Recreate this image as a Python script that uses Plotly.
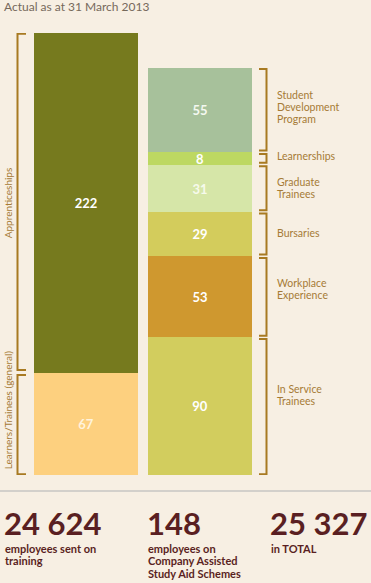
import plotly.graph_objects as go

# ---- data (segments listed top -> bottom) ----
left_labels = ["Apprenticeships", "Learners/Trainees (general)"]
left_values = [222, 67]
right_labels = ["Student<br>Development<br>Program", "Learnerships", "Graduate<br>Trainees",
                "Bursaries", "Workplace<br>Experience", "In Service<br>Trainees"]
right_values = [55, 8, 31, 29, 53, 90]
headline_numbers = ["24 624", "148", "25 327"]
headline_texts = ["employees sent on<br>training",
                  "employees on<br>Company Assisted<br>Study Aid Schemes",
                  "in TOTAL"]
subtitle = "Actual as at 31 March 2013"

# ---- styles ----
W, H = 371, 583
BG = "#F7EFE3"
BRACKET = "#A87A22"
LABEL = "#A67B36"
DARK = "#5A1F22"
FONT = "Lato"
left_colors = ["#767A1E", "#FDD07F"]
right_colors = ["#A7C19B", "#BDD862", "#D6E6A8", "#D3CC5C", "#CF982F", "#D2CD5E"]
left_text_colors = ["#FFFFFF", "#FFF3DC"]
right_text_colors = ["#F4F8F0", "#FFFFFF", "#F6FAEC", "#FFFFFF", "#FFFFFF", "#FFFFFF"]
left_shifts = [0, 14]
right_shifts = [3, 2, 0, 1.5, 7.5, 11]

M_T, M_B = 33, 108
plot_h = H - M_T - M_B
ymax = max(sum(left_values), sum(right_values))
unit_px = 114
x0 = -86 / unit_px
x1 = x0 + W / unit_px
bar_w = 104 / unit_px


def py(p):  # pixel row -> paper y
    return (H - M_B - p) / plot_h


def px(p):  # pixel col -> paper x
    return p / W


def spans(values):
    """(bottom, top) of each segment, listed top -> bottom, stacking from 0."""
    out = []
    cum = 0
    for v in values[::-1]:
        out.append((cum, cum + v))
        cum += v
    return out[::-1]


fig = go.Figure()
shapes = []
annotations = []


def multiline(text, x, y, yref, line_h, font, shift=0):
    lines = text.split("<br>")
    n = len(lines)
    for i, ln in enumerate(lines):
        annotations.append(dict(x=x, y=y, xref="paper", yref=yref, text=ln,
                                xanchor="left", yanchor="middle", showarrow=False,
                                yshift=shift + ((n - 1) / 2 - i) * line_h, font=font))


def add_column(xpos, labels, values, colors, tcolors, shifts, bx, btick, lab_x, rotated, gap):
    total = sum(values)
    for (lo, hi), lab, v, c, tc, sh in zip(spans(values), labels, values, colors, tcolors, shifts):
        fig.add_trace(go.Bar(x=[xpos], y=[v], base=[lo], width=bar_w,
                             marker=dict(color=c, line=dict(width=0)),
                             text=[str(v)], textposition="inside", insidetextanchor="middle",
                             textangle=0, constraintext="none",
                             textfont=dict(family=FONT, size=13, color=tc, weight="bold"),
                             showlegend=False, hoverinfo="skip"))
        b = lo + (0.5 if lo == 0 else gap)
        t = hi - (0.5 if hi == total else gap)
        shapes.append(dict(type="path", xref="paper", yref="y",
                           path=f"M {btick},{b} L {bx},{b} L {bx},{t} L {btick},{t}",
                           line=dict(color=BRACKET, width=2)))
        if rotated:
            annotations.append(dict(x=lab_x, y=(lo + hi) / 2, xref="paper", yref="y", text=lab,
                                    textangle=-90, showarrow=False, yshift=sh,
                                    xanchor="center", yanchor="middle",
                                    font=dict(family=FONT, size=10, color=LABEL)))
        else:
            multiline(lab, lab_x, (lo + hi) / 2, "y", 12,
                      dict(family=FONT, size=10.5, color=LABEL), sh)


add_column(0, left_labels, left_values, left_colors, left_text_colors, left_shifts,
           px(17.5), px(26), px(7.5), True, 1.6)
add_column(1, right_labels, right_values, right_colors, right_text_colors, right_shifts,
           px(266.5), px(259), px(275), False, 1.1)

# separator line
shapes.append(dict(type="line", xref="paper", yref="paper", x0=0, x1=1, y0=py(491), y1=py(491),
                   line=dict(color="#D3D0CB", width=2)))

# subtitle
annotations.append(dict(x=px(2), y=py(7), xref="paper", yref="paper", text=subtitle,
                        xanchor="left", yanchor="middle", showarrow=False,
                        font=dict(family=FONT, size=12, color="#76695B")))

# headline numbers
hx = [2, 145, 268]
for x, num, txt in zip(hx, headline_numbers, headline_texts):
    annotations.append(dict(x=px(x), y=py(523), xref="paper", yref="paper", text=num,
                            xanchor="left", yanchor="middle", showarrow=False,
                            font=dict(family=FONT, size=31, color=DARK, weight="bold")))
    n = len(txt.split("<br>"))
    # first line centred at pixel row 548, 12.5 px leading
    multiline(txt, px(x + 1), py(548), "paper", 12.5,
              dict(family=FONT, size=11, color=DARK, weight="bold"), -(n - 1) / 2 * 12.5)

fig.update_layout(
    width=W, height=H, paper_bgcolor=BG, plot_bgcolor=BG,
    margin=dict(l=0, r=0, t=M_T, b=M_B),
    barmode="overlay", bargap=0,
    xaxis=dict(range=[x0, x1], visible=False, fixedrange=True),
    yaxis=dict(range=[0, ymax], visible=False, fixedrange=True),
    shapes=shapes, annotations=annotations,
    showlegend=False,
)
fig.write_html("out.html", config={"displayModeBar": False},
               post_script="document.body.style.margin='0';document.body.style.overflow='hidden';")
